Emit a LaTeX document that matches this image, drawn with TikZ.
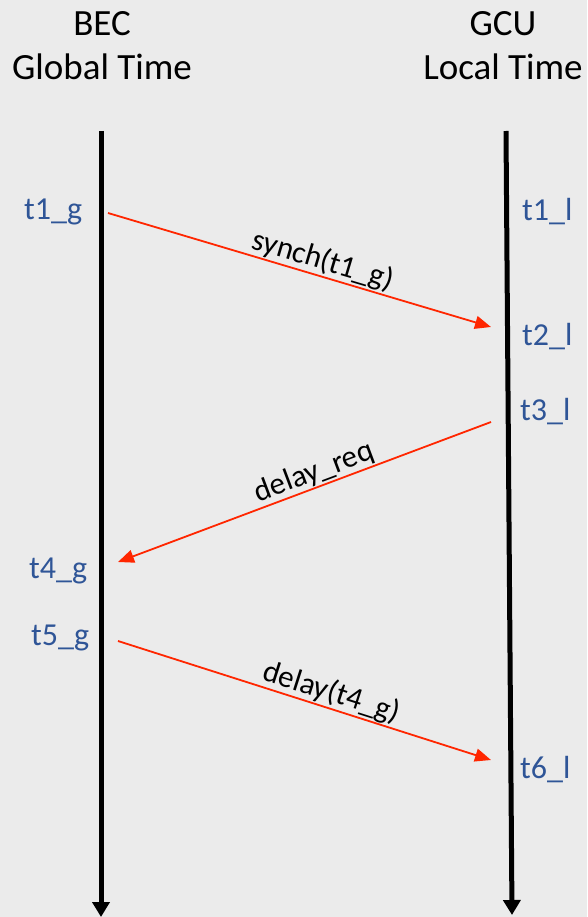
\documentclass[tikz,border=0pt]{standalone}
\usepackage{fontspec}
\setmainfont{Carlito}
\usetikzlibrary{arrows.meta}
\definecolor{bgfill}{RGB}{235,235,235}
\definecolor{stampblue}{RGB}{47,85,151}
\definecolor{msgred}{RGB}{255,38,0}
\begin{document}
\begin{tikzpicture}[x=1pt,y=-1pt,
  lifeline/.style={line width=5pt,-{Triangle[length=15pt,width=17pt]}},
  message/.style={msgred,line width=1.8pt,-{Triangle[length=16pt,width=13pt]}},
  heading/.style={font=\fontsize{37}{44}\selectfont,anchor=base,inner sep=0pt},
  stamp/.style={text=stampblue,font=\fontsize{32}{38}\selectfont,anchor=base west,inner sep=0pt},
  msglabel/.style={font=\fontsize{31}{36}\selectfont,sloped,above,inner sep=1.5pt}]
  % canvas
  \useasboundingbox (0,0) rectangle (587,917);
  \fill[bgfill] (0,0) rectangle (587,917);

  % headings
  \node[heading] (bec)  at (102,36) {BEC};
  \node[heading] (gtime) at (102,80) {Global Time};
  \node[heading] (gcu)  at (503,36) {GCU};
  \node[heading] (ltime) at (503,80) {Local Time};

  % lifelines
  \coordinate (becTop) at (101,131);
  \coordinate (becEnd) at (101,917);
  \coordinate (gcuTop) at (506,131);
  \coordinate (gcuEnd) at (512,915);
  \draw[lifeline] (becTop) -- (becEnd);
  \draw[lifeline] (gcuTop) -- (gcuEnd);

  % timestamps
  \node[stamp] (t1g) at (24,220) {t1\_g};
  \node[stamp] (t4g) at (29,578) {t4\_g};
  \node[stamp] (t5g) at (31,645) {t5\_g};
  \node[stamp] (t1l) at (522,221) {t1\_l};
  \node[stamp] (t2l) at (522,345) {t2\_l};
  \node[stamp] (t3l) at (520,420) {t3\_l};
  \node[stamp] (t6l) at (520,778) {t6\_l};

  % message end points
  \coordinate (synchS) at (108,213);
  \coordinate (synchE) at (491,327);
  \coordinate (reqS)   at (491,422);
  \coordinate (reqE)   at (118,562);
  \coordinate (delayS) at (118,641);
  \coordinate (delayE) at (491,760);

  % messages
  \draw[message] (synchS) -- (synchE);
  \path (synchS) -- (synchE) node[msglabel,pos=0.55] (synchlbl) {synch(t1\_g)};
  \draw[message] (reqS) -- (reqE);
  \path (reqE) -- (reqS) node[msglabel,pos=0.54] (reqlbl) {delay\_req};
  \draw[message] (delayS) -- (delayE);
  \path (delayS) -- (delayE) node[msglabel,pos=0.56] (delaylbl) {delay(t4\_g)};
\end{tikzpicture}
\end{document}
